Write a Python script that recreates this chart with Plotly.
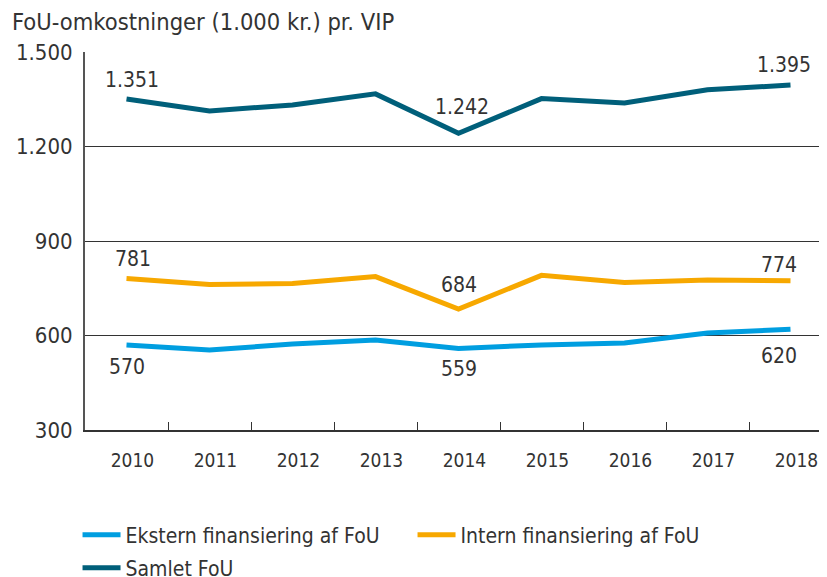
import plotly.graph_objects as go

years = ["2010", "2011", "2012", "2013", "2014", "2015", "2016", "2017", "2018"]
ekstern = [570, 554, 573, 586, 559, 570, 576, 608, 620]
intern = [781, 762, 765, 787, 684, 791, 768, 776, 774]
samlet = [1351, 1313, 1332, 1367, 1242, 1352, 1338, 1380, 1395]
label_idx = [0, 4, 8]
y_ticks = [300, 600, 900, 1200, 1500]

FONT = "DejaVu Sans Condensed, Roboto, sans-serif"
TXT = "#333333"

# label pixel offsets (style only)
series = [
    ("Ekstern finansiering af FoU", ekstern, "#009ee0", [-22, -21, -27], [0, 0, -12], "legend"),
    ("Intern finansiering af FoU", intern, "#f7a800", [19, 24, 16], [6, 0, -12], "legend"),
    ("Samlet FoU", samlet, "#005f7a", [19, 26, 20], [5, 3, -7], "legend2"),
]

L, R, T, B, W, H = 77, 3, 44, 155, 827, 577
PW, PH = W - L - R, H - T - B

fig = go.Figure()
annotations = []
for name, vals, color, yshifts, xshifts, leg in series:
    fig.add_trace(go.Scatter(x=years, y=vals, name=name, mode="lines", legend=leg,
                             line=dict(color=color, width=5)))
    for k, i in enumerate(label_idx):
        annotations.append(dict(x=i, y=vals[i], xref="x", yref="y",
                                text=f"{vals[i]:,}".replace(",", "."), showarrow=False,
                                yshift=yshifts[k], xshift=xshifts[k],
                                font=dict(size=21, color=TXT, family=FONT)))

annotations.append(dict(text="FoU-omkostninger (1.000 kr.) pr. VIP", xref="paper", yref="paper",
                        x=(2 - L) / PW, y=1 + (T - 14) / PH, xanchor="left", yanchor="middle",
                        showarrow=False, font=dict(size=23.5, color=TXT, family=FONT)))

leg_common = dict(orientation="h", x=-0.01, xanchor="left", yanchor="middle",
                  font=dict(size=21, color=TXT, family=FONT), entrywidth=282,
                  itemwidth=38, bgcolor="rgba(0,0,0,0)")

fig.update_layout(
    width=W, height=H,
    margin=dict(l=L, r=R, t=T, b=B, autoexpand=False),
    paper_bgcolor="white", plot_bgcolor="white",
    separators=",.",
    font=dict(family=FONT, color=TXT),
    showlegend=True,
    legend=dict(y=-105 / PH, **leg_common),
    legend2=dict(y=-138 / PH, **leg_common),
    annotations=annotations,
)
fig.update_xaxes(type="category", showgrid=False, showline=True, linecolor="#333333", linewidth=2,
                 ticks="inside", tickson="boundaries", ticklen=8, tickcolor="#333333",
                 ticklabelstandoff=12, ticklabelshift=6, automargin=False,
                 tickfont=dict(size=19, color=TXT, family=FONT), range=[-0.5, 8.5])
fig.update_yaxes(range=[300, 1500], tickvals=y_ticks, tickformat=",d", showgrid=True,
                 gridcolor="#333333", gridwidth=1, showline=True, linecolor="#555555", linewidth=2,
                 zeroline=False, ticks="", ticklabelstandoff=6, automargin=False,
                 tickfont=dict(size=22, color=TXT, family=FONT))

fig.write_html("out.html")
